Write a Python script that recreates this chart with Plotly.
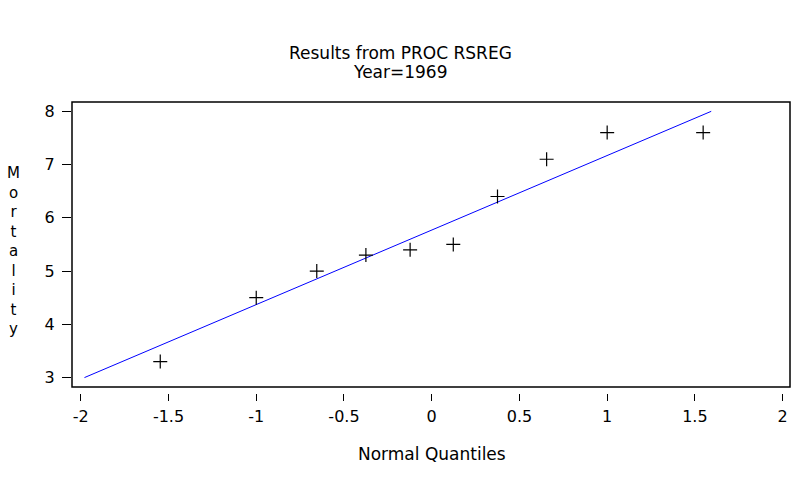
import plotly.graph_objects as go

# normal quantiles vs mortality
quantiles = [-1.547, -1.000, -0.655, -0.375, -0.123, 0.123, 0.375, 0.655, 1.000, 1.547]
mortality = [3.3, 4.5, 5.0, 5.3, 5.4, 5.5, 6.4, 7.1, 7.6, 7.6]

# fitted reference line (clipped to the 3..8 axis range)
line_x = [-1.979, 1.593]
line_y = [3.0, 8.0]

x_ticks = [-2, -1.5, -1, -0.5, 0, 0.5, 1, 1.5, 2]
x_labels = ["-2", "-1.5", "-1", "-0.5", "0", "0.5", "1", "1.5", "2"]
y_ticks = [3, 4, 5, 6, 7, 8]

FONT = "DejaVu Sans, sans-serif"

fig = go.Figure()
fig.add_trace(go.Scatter(x=line_x, y=line_y, mode="lines",
                         line=dict(color="#0000FF", width=1), hoverinfo="skip"))
fig.add_trace(go.Scatter(x=quantiles, y=mortality, mode="markers",
                         marker=dict(symbol="cross-thin", size=10,
                                     line=dict(color="black", width=1.2))))

fig.update_layout(
    width=800, height=484,
    margin=dict(l=72, r=10, t=102, b=84),
    paper_bgcolor="white", plot_bgcolor="white",
    showlegend=False,
    font=dict(family=FONT, color="black", size=16),
    xaxis=dict(range=[-2.05, 2.042], tickvals=x_ticks, ticktext=x_labels,
               anchor="free", position=0.0235, showline=False, showgrid=False,
               zeroline=False, ticks="outside", ticklen=7, tickcolor="black",
               tickfont=dict(size=16), ticklabelstandoff=2),
    yaxis=dict(range=[2.823, 8.175], tickvals=y_ticks, domain=[0.0436, 1],
               showline=False, showgrid=False, zeroline=False,
               ticks="outside", ticklen=9, tickcolor="black",
               tickfont=dict(size=16), ticklabelstandoff=4),
    shapes=[dict(type="rect", xref="x domain", yref="y domain",
                 x0=0, x1=1, y0=0, y1=1, line=dict(color="black", width=1.5))],
    annotations=[
        dict(text="Results from PROC RSREG", xref="paper", yref="paper",
             x=0.458, y=1.164, showarrow=False, yanchor="middle", font=dict(size=17)),
        dict(text="Year=1969", xref="paper", yref="paper",
             x=0.458, y=1.100, showarrow=False, yanchor="middle", font=dict(size=17)),
        dict(text="Normal Quantiles", xref="x", yref="paper", x=0, y=-0.18,
             showarrow=False, yanchor="middle", font=dict(size=17)),
        dict(text="M<br>o<br>r<br>t<br>a<br>l<br>i<br>t<br>y", xref="paper",
             yref="paper", x=-0.093, y=0.5, showarrow=False, yanchor="middle",
             font=dict(size=15)),
    ],
)

fig.write_html("out.html", config={"displayModeBar": False},
               post_script="document.body.style.margin='0';")
